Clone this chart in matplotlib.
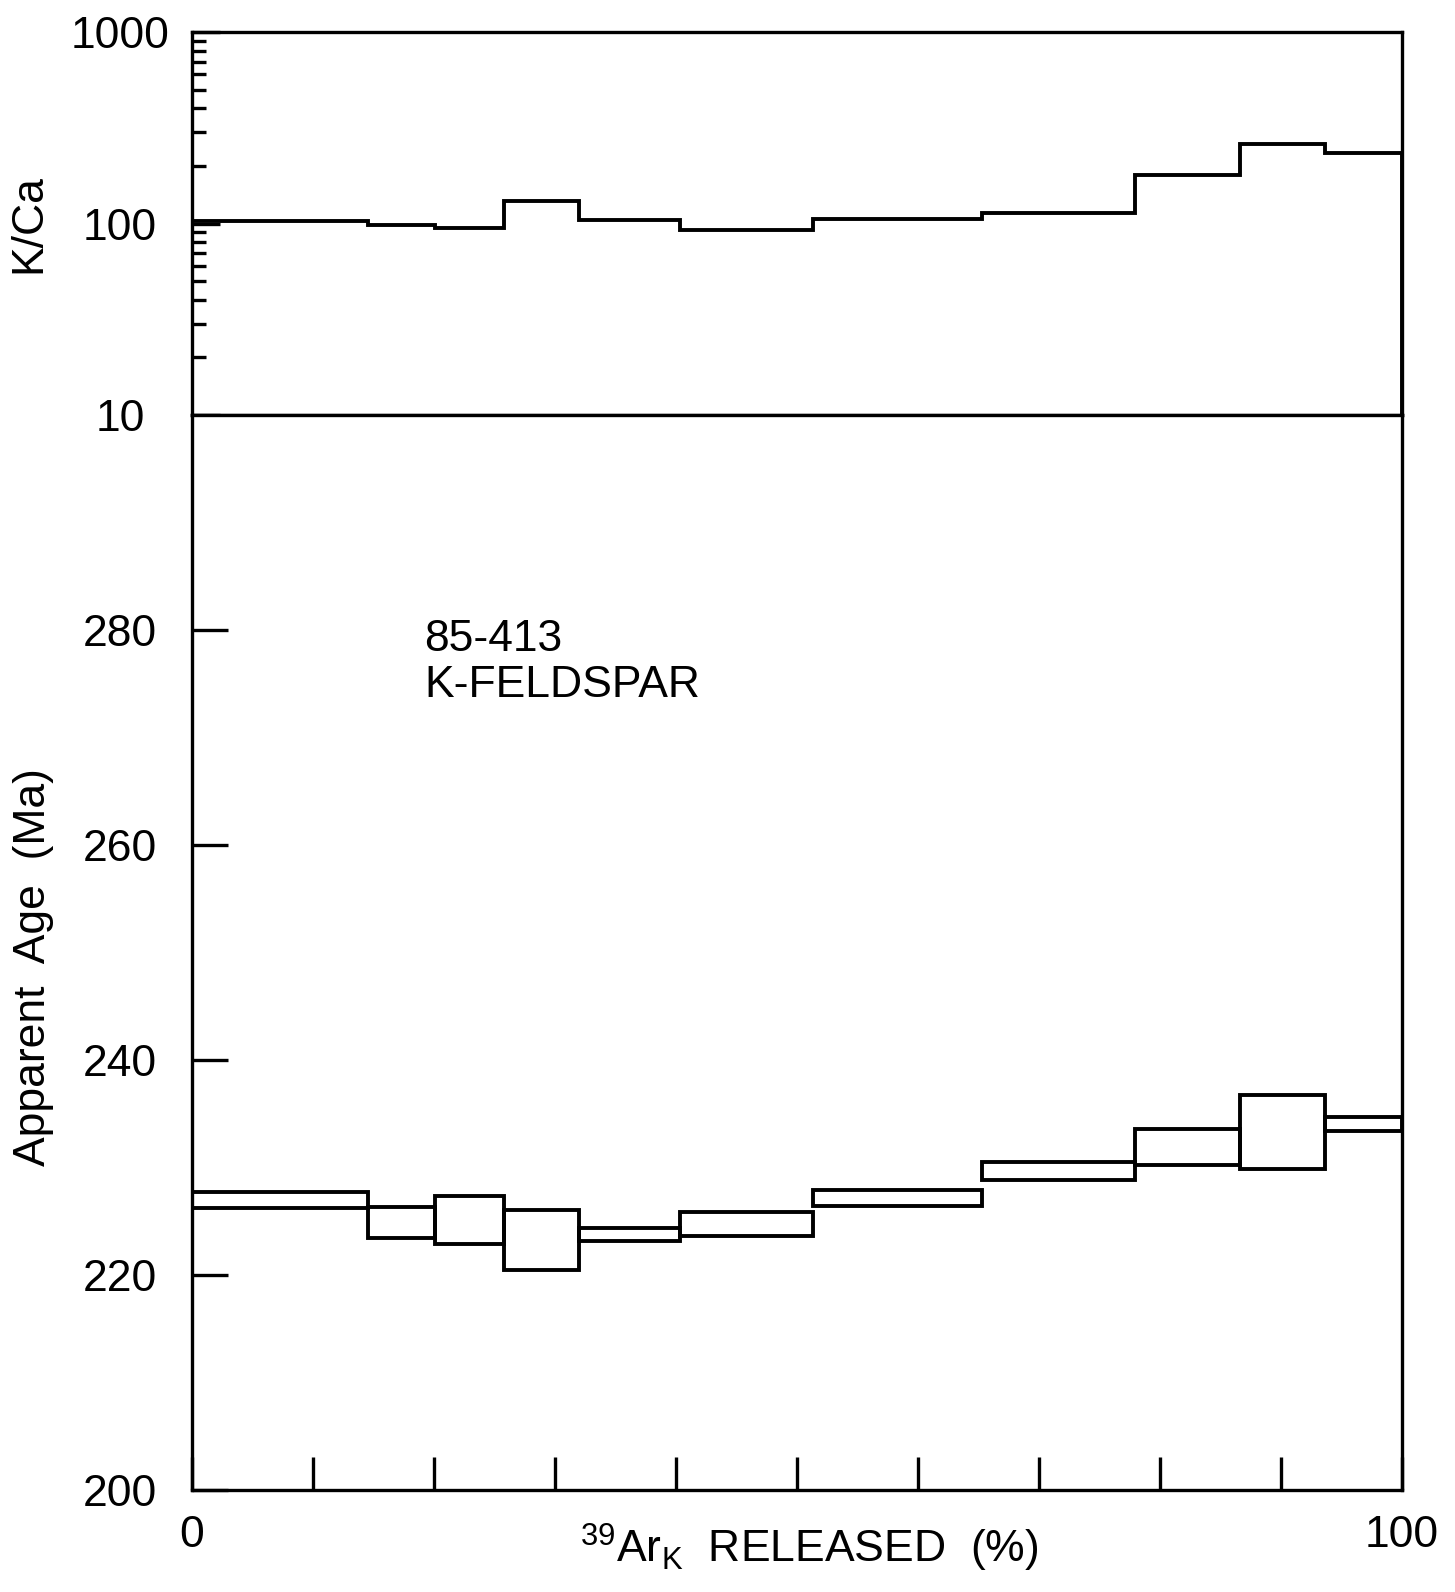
import matplotlib
matplotlib.use('Agg')
import matplotlib.pyplot as plt
from matplotlib.ticker import LogLocator, NullFormatter
import numpy as np

# heating steps: cumulative % 39Ar released
edges = [0, 14.5, 20.1, 25.8, 32.0, 40.3, 51.3, 65.3, 77.9, 86.6, 93.6, 100]
k_ca = [103, 98, 95, 131, 104, 92.5, 106, 113.5, 179, 260, 233]
age_lo = [226.2, 223.4, 222.9, 220.5, 223.2, 223.6, 226.4, 228.8, 230.2, 229.9, 233.4]
age_hi = [227.7, 226.3, 227.3, 226.0, 224.4, 225.9, 227.9, 230.5, 233.6, 236.7, 234.7]

age_ticks = [200, 220, 240, 260, 280]
kca_ticks = [10, 100, 1000]
x_ticks = [0, 10, 20, 30, 40, 50, 60, 70, 80, 90, 100]
x_labels = ['0', '', '', '', '', '', '', '', '', '', '100']

plt.rcParams['font.family'] = ['Liberation Sans', 'DejaVu Sans']
plt.rcParams['mathtext.fontset'] = 'custom'
plt.rcParams['mathtext.rm'] = 'Liberation Sans'
plt.rcParams['mathtext.default'] = 'regular'

FS = 32
LW = 2.4

fig = plt.figure(figsize=(14.55, 15.92), dpi=100)
left, width = 0.132, 0.8316
ax1 = fig.add_axes([left, 0.7393, width, 0.2406])
ax2 = fig.add_axes([left, 0.0641, width, 0.6753])

# K/Ca panel
ax1.stairs(k_ca, edges, color='black', linewidth=2.8)
ax1.set_yscale('log')
ax1.set_ylim(10, 1000)
ax1.set_xlim(0, 100)
ax1.set_yticks(kca_ticks, labels=[str(t) for t in kca_ticks])
ax1.yaxis.set_minor_locator(LogLocator(base=10, subs=np.arange(2, 10)))
ax1.yaxis.set_minor_formatter(NullFormatter())
ax1.tick_params(axis='y', which='major', direction='in', length=20, width=LW,
                labelsize=FS, pad=52, right=False)
ax1.tick_params(axis='y', which='minor', direction='in', length=10, width=LW, right=False)
ax1.set_xticks([])
plt.setp(ax1.get_yticklabels(), ha='center')
ax1.set_ylabel('K/Ca', fontsize=FS)
ax1.yaxis.set_label_coords(-0.118, 0.5)

# age spectrum panel
widths = np.diff(edges)
heights = np.array(age_hi) - np.array(age_lo)
ax2.bar(edges[:-1], heights, width=widths, bottom=age_lo, align='edge',
        fill=False, edgecolor='black', linewidth=2.8)
ax2.set_xlim(0, 100)
ax2.set_ylim(200, 300)
ax2.set_yticks(age_ticks, labels=[str(t) for t in age_ticks])
ax2.tick_params(axis='y', direction='in', length=26, width=LW, labelsize=FS, pad=52)
plt.setp(ax2.get_yticklabels(), ha='center')
ax2.set_xticks(x_ticks, labels=x_labels)
ax2.tick_params(axis='x', direction='in', length=24, width=LW, labelsize=FS, pad=18)
ax2.set_ylabel('Apparent  Age  (Ma)', fontsize=FS)
ax2.yaxis.set_label_coords(-0.114, 0.4865)
ax2.set_xlabel('$^{39}$Ar$_{K}$  RELEASED  (%)', fontsize=FS)
ax2.xaxis.label.set_va('center')
ax2.xaxis.set_label_coords(0.51, -0.054)

ax2.text(19.2, 281, '85-413\nK-FELDSPAR', fontsize=FS, va='top', ha='left',
         linespacing=1.15)

for ax in (ax1, ax2):
    for s in ax.spines.values():
        s.set_linewidth(LW)

fig.savefig('out.png', dpi=100, facecolor='white')
